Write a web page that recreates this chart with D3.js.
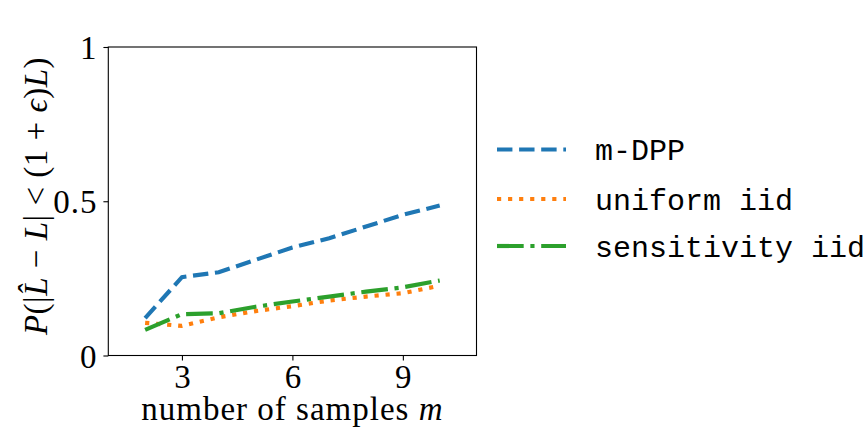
<html>
    <head>
        <title>Sampling probability</title>
        <style>
            body { margin: 0; background: white; }
            text { fill: black; }
        </style>
    </head>
    <body>
        <svg id="container" width="864" height="432"></svg>
    </body>
    <script src="https://d3js.org/d3.v7.min.js"></script>
    <script>
        // data
        let samples = [2, 3, 4, 5, 6, 7, 8, 9, 10]
        let mdpp = [0.121, 0.254, 0.270, 0.310, 0.350, 0.380, 0.418, 0.456, 0.486]
        let uniform = [0.106, 0.096, 0.124, 0.144, 0.160, 0.178, 0.191, 0.202, 0.226]
        let sensitivity = [0.083, 0.134, 0.137, 0.158, 0.175, 0.191, 0.207, 0.221, 0.243]
        let seriesNames = ["m-DPP", "uniform iid", "sensitivity iid"]
        let xTicks = [3, 6, 9]
        let yTicks = [0, 0.5, 1]

        let lw = 4.17
        let styles = [
            { color: "#1f77b4", dash: [3.7 * lw, 1.6 * lw] },
            { color: "#ff7f0e", dash: [1 * lw, 1.65 * lw] },
            { color: "#2ca02c", dash: [6.4 * lw, 1.6 * lw, 1 * lw, 1.6 * lw] }
        ]
        let allSeries = [mdpp, uniform, sensitivity]

        let svg = d3.select("#container")
        let plotLeft = 108.3, plotRight = 476.5, plotTop = 47, plotBottom = 355.5

        let x = d3.scaleLinear().domain([1, 11]).range([plotLeft, plotRight])
        let y = d3.scaleLinear().domain([0, 1]).range([plotBottom, plotTop])

        let serif = "'Liberation Serif', 'DejaVu Serif', serif"

        let line = d3.line()
                     .x((d, i) => x(samples[i]))
                     .y(d => y(d))

        svg.selectAll("path.series")
           .data(allSeries)
           .enter()
           .append("path")
           .attr("class", "series")
           .attr("d", line)
           .attr("fill", "none")
           .attr("stroke", (d, i) => styles[i].color)
           .attr("stroke-width", lw)
           .attr("stroke-dasharray", (d, i) => styles[i].dash.join(","))

        // axes
        let xAxis = d3.axisBottom(x).tickValues(xTicks).tickSize(4.9).tickPadding(5)
        let yAxis = d3.axisLeft(y).tickValues(yTicks).tickSize(4.9).tickPadding(6)
                      .tickFormat(d => d == 0.5 ? "0.5" : d3.format("d")(d))

        let gx = svg.append("g").attr("transform", `translate(0,${plotBottom})`).call(xAxis)
        let gy = svg.append("g").attr("transform", `translate(${plotLeft},0)`).call(yAxis)
        for (let g of [gx, gy]) {
            g.select(".domain").remove()
            g.selectAll("line").attr("stroke", "black").attr("stroke-width", 1.1)
            g.selectAll("text").attr("font-family", serif).attr("font-size", 33)
             .attr("fill", "black")
        }
        gy.selectAll("text").attr("dy", "0.35em").attr("letter-spacing", 1)
        gx.selectAll("text").attr("dy", "0.68em")

        svg.append("rect")
           .attr("x", plotLeft).attr("y", plotTop)
           .attr("width", plotRight - plotLeft).attr("height", plotBottom - plotTop)
           .attr("fill", "none").attr("stroke", "black").attr("stroke-width", 1.1)

        // axis labels
        let xl = svg.append("text")
           .attr("x", (plotLeft + plotRight) / 2).attr("y", 420)
           .attr("text-anchor", "middle")
           .attr("font-family", serif).attr("font-size", 33)
           .attr("letter-spacing", 1)
        xl.append("tspan").text("number of samples ")
        xl.append("tspan").attr("font-style", "italic").text("m")

        let yl = svg.append("text")
           .attr("transform", "translate(47,196) rotate(-90)")
           .attr("text-anchor", "middle")
           .attr("font-family", serif).attr("font-size", 33)
           .attr("letter-spacing", 0.5)
        yl.append("tspan").attr("font-style", "italic").text("P")
        yl.append("tspan").text("(|")
        yl.append("tspan").attr("font-style", "italic").text("L\u0302")
        yl.append("tspan").text(" \u2212 ")
        yl.append("tspan").attr("font-style", "italic").text("L")
        yl.append("tspan").text("| < (1 + ")
        yl.append("tspan").attr("font-style", "italic").text("\u03f5")
        yl.append("tspan").text(")")
        yl.append("tspan").attr("font-style", "italic").text("L")
        yl.append("tspan").text(")")

        // legend
        let rowY = [149.5, 199, 246]
        let legend = svg.selectAll("g.legend")
                        .data(seriesNames)
                        .enter()
                        .append("g")
                        .attr("class", "legend")
                        .attr("transform", (d, i) => `translate(497,${rowY[i]})`)
        legend.append("line")
              .attr("x1", 0).attr("x2", 69)
              .attr("stroke", (d, i) => styles[i].color)
              .attr("stroke-width", lw)
              .attr("stroke-dasharray", (d, i) => styles[i].dash.join(","))
        legend.append("text")
              .attr("x", 98).attr("dy", "0.35em")
              .attr("font-family", "'Liberation Mono', 'DejaVu Sans Mono', monospace")
              .attr("font-size", 30)
              .text(d => d)
    </script>
</html>
